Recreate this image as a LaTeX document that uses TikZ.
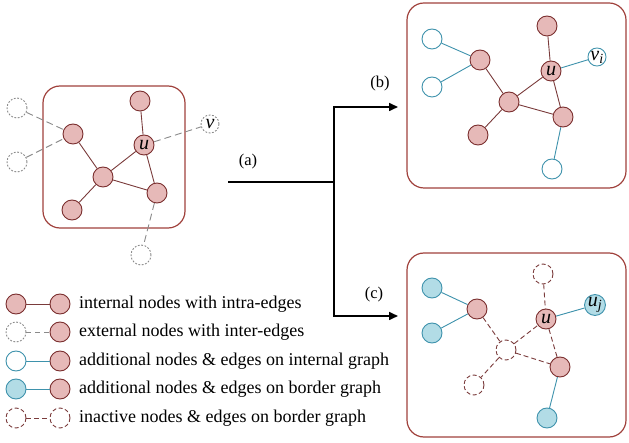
\documentclass[tikz,border=0pt]{standalone}
\usepackage{fontspec}
\setmainfont{Liberation Serif}
\usetikzlibrary{arrows.meta}
\definecolor{pinkf}{HTML}{E6B9B8}
\definecolor{nborder}{HTML}{7A2E2E}
\definecolor{edgec}{HTML}{7A3B3B}
\definecolor{boxc}{HTML}{A0413C}
\definecolor{tealc}{HTML}{3E92AC}
\definecolor{tealf}{HTML}{B2DCE6}
\definecolor{grayc}{HTML}{8A8A8A}
\tikzset{
  inn/.style={circle,draw=nborder,fill=pinkf,line width=0.9pt,minimum size=20pt,inner sep=0pt},
  ext/.style={circle,draw=grayc,line width=0.9pt,dash pattern=on 1.8pt off 1.6pt,minimum size=20pt,inner sep=0pt},
  addi/.style={circle,draw=tealc,fill=white,line width=0.9pt,minimum size=20pt,inner sep=0pt},
  addb/.style={circle,draw=tealc,fill=tealf,line width=0.9pt,minimum size=20pt,inner sep=0pt},
  inact/.style={circle,draw=edgec,line width=0.9pt,dash pattern=on 4pt off 2.5pt,minimum size=20pt,inner sep=0pt},
  ie/.style={draw=edgec,line width=0.9pt},
  ge/.style={draw=grayc,line width=0.9pt,dash pattern=on 7pt off 4pt},
  te/.style={draw=tealc,line width=0.9pt},
  de/.style={draw=edgec,line width=0.9pt,dash pattern=on 5pt off 3pt},
  gbox/.style={draw=boxc,line width=1.2pt,rounded corners=17pt},
  flow/.style={draw=black,line width=1.6pt},
  lbl/.style={font=\fontsize{16.5}{19}\selectfont},
  leg/.style={anchor=west,font=\fontsize{18}{21}\selectfont,inner sep=0pt},
  nl/.style={font=\fontsize{20}{22}\selectfont\itshape},
}
\begin{document}
\begin{tikzpicture}[x=1pt,y=-1pt]
\useasboundingbox (0,0) rectangle (629,443);
% ---------- left panel ----------
\draw[gbox] (43,86) rectangle (185,228);
\node[ext] (le1) at (17,108) {};
\node[ext] (le2) at (17,162) {};
\node[ext,nl,minimum size=18pt] (lv) at (210,124) {v};
\node[ext] (le3) at (141,255) {};
\node[inn] (lt) at (140,101) {};
\node[inn,nl] (lu) at (144,145) {u};
\node[inn] (lm) at (73,134) {};
\node[inn] (lc) at (103,177) {};
\node[inn] (ll) at (72,210) {};
\node[inn] (lr) at (157,193) {};
\draw[ie] (lt) -- (lu);
\draw[ie] (lm) -- (lc);
\draw[ie] (lc) -- (lu);
\draw[ie] (lc) -- (ll);
\draw[ie] (lc) -- (lr);
\draw[ie] (lu) -- (lr);
\draw[ge] (le1) -- (lm);
\draw[ge] (le2) -- (lm);
\draw[ge] (lu) -- (lv);
\draw[ge] (lr) -- (le3);
% ---------- flow arrows ----------
\coordinate (a0) at (228,182);
\coordinate (aj) at (334,182);
\coordinate (bt) at (334,107);
\coordinate (cb) at (334,316);
\coordinate (bend) at (398,107);
\coordinate (cend) at (398,316);
\draw[flow] (a0) -- (aj);
\draw[flow,-{Triangle[length=9pt,width=8pt]}] (cb) -- (bt) -- (bend);
\draw[flow,-{Triangle[length=9pt,width=8pt]}] (bt) -- (cb) -- (cend);
\node[lbl] (la) at (248,162) {(a)};
\node[lbl] (lb) at (380,84) {(b)};
\node[lbl] (lcl) at (374,295) {(c)};
% ---------- panel (b) ----------
\draw[gbox] (407,3) rectangle (626,188);
\node[addi] (be1) at (432,39) {};
\node[addi] (be2) at (432,87) {};
\node[addi,nl,minimum size=18pt] (bv) at (597,57) {v\textsubscript{i}};
\node[addi] (be3) at (552,169) {};
\node[inn] (bt1) at (547,26) {};
\node[inn,nl] (bu) at (551,71) {u};
\node[inn] (bm) at (480,60) {};
\node[inn] (bc) at (509,102) {};
\node[inn] (bl) at (478,135) {};
\node[inn] (br) at (563,117) {};
\draw[ie] (bt1) -- (bu);
\draw[ie] (bm) -- (bc);
\draw[ie] (bc) -- (bu);
\draw[ie] (bc) -- (bl);
\draw[ie] (bc) -- (br);
\draw[ie] (bu) -- (br);
\draw[te] (be1) -- (bm);
\draw[te] (be2) -- (bm);
\draw[te] (bu) -- (bv);
\draw[te] (br) -- (be3);
% ---------- panel (c) ----------
\draw[gbox] (407,253) rectangle (626,437);
\node[addb] (ce1) at (432,288) {};
\node[addb] (ce2) at (432,333) {};
\node[addb,nl,minimum size=18pt] (cv) at (595,305) {u\textsubscript{j}};
\node[addb] (ce3) at (547,418) {};
\node[inact] (ct) at (543,274) {};
\node[inn,nl] (cu) at (546,319) {u};
\node[inn] (cm) at (477,309) {};
\node[inact] (cc) at (506,350) {};
\node[inact] (cl) at (474,385) {};
\node[inn] (cr) at (560,367) {};
\draw[de] (ct) -- (cu);
\draw[de] (cm) -- (cc);
\draw[de] (cc) -- (cu);
\draw[de] (cc) -- (cl);
\draw[de] (cc) -- (cr);
\draw[de] (cu) -- (cr);
\draw[te] (ce1) -- (cm);
\draw[te] (ce2) -- (cm);
\draw[te] (cu) -- (cv);
\draw[te] (cr) -- (ce3);
% ---------- legend ----------
\node[inn] (g1a) at (16,304) {};
\node[inn] (g1b) at (60,304) {};
\draw[ie] (g1a) -- (g1b);
\node[leg] (t1) at (79,304) {internal nodes with intra-edges};
\node[ext] (g2a) at (16,332) {};
\node[inn] (g2b) at (60,332) {};
\draw[ge,dash pattern=on 5pt off 4pt] (g2a) -- (g2b);
\node[leg] (t2) at (79,332) {external nodes with inter-edges};
\node[addi] (g3a) at (16,361) {};
\node[inn] (g3b) at (60,361) {};
\draw[te] (g3a) -- (g3b);
\node[leg] (t3) at (79,361) {additional nodes \& edges on internal graph};
\node[addb] (g4a) at (16,389) {};
\node[inn] (g4b) at (60,389) {};
\draw[te] (g4a) -- (g4b);
\node[leg] (t4) at (79,389) {additional nodes \& edges on border graph};
\node[inact] (g5a) at (16,418) {};
\node[inact] (g5b) at (60,418) {};
\draw[de] (g5a) -- (g5b);
\node[leg] (t5) at (79,418) {inactive nodes \& edges on border graph};
\end{tikzpicture}
\end{document}
